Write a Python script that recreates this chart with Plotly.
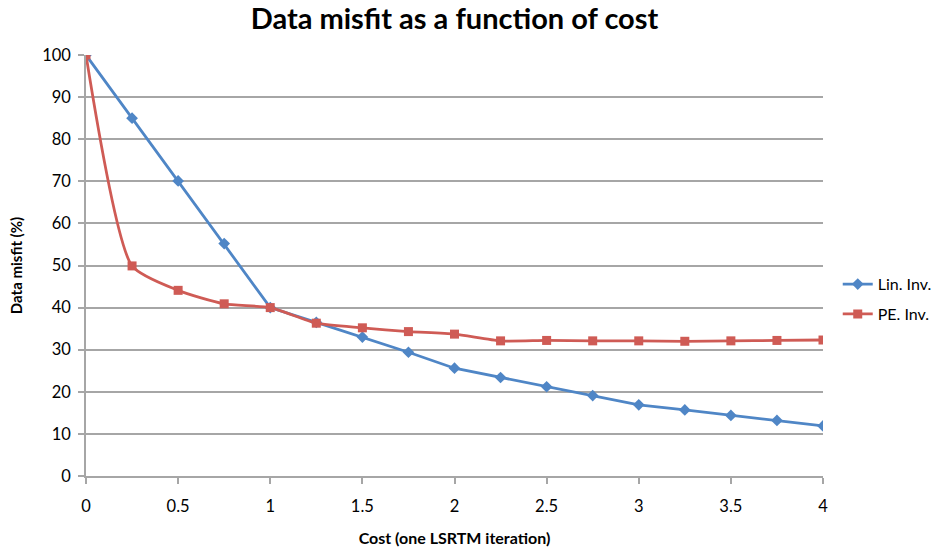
import plotly.graph_objects as go

# Cost in LSRTM iterations
cost = [0, 0.25, 0.5, 0.75, 1.0, 1.25, 1.5, 1.75, 2.0, 2.25, 2.5, 2.75, 3.0, 3.25, 3.5, 3.75, 4.0]

# Data misfit (%) for each inversion scheme
lin_inv = [100, 85.0, 70.1, 55.2, 40.0, 36.5, 33.0, 29.4, 25.6, 23.4, 21.2, 19.1, 16.9, 15.7, 14.4, 13.2, 11.9]
pe_inv = [100, 49.9, 44.1, 40.9, 40.0, 36.3, 35.2, 34.3, 33.7, 32.1, 32.2, 32.1, 32.1, 32.0, 32.1, 32.2, 32.3]

x_ticks = [0, 0.5, 1, 1.5, 2, 2.5, 3, 3.5, 4]
x_tick_text = ["0", "0.5", "1", "1.5", "2", "2.5", "3", "3.5", "4"]
y_ticks = list(range(0, 101, 10))

BLUE = "#4f86c6"
RED = "#cf5b55"
GRID = "#a6a6a6"
FONT = "Lato"

fig = go.Figure()
fig.add_trace(go.Scatter(
    x=cost, y=lin_inv, name="Lin. Inv.", mode="lines+markers", legendgroup="lin",
    line=dict(color=BLUE, width=2.8),
    marker=dict(symbol="diamond", size=9, color=BLUE),
))
fig.add_trace(go.Scatter(
    x=cost, y=pe_inv, name="PE. Inv.", mode="lines+markers", legendgroup="pe",
    line=dict(color=RED, width=2.8, shape="spline", smoothing=0.6),
    marker=dict(symbol="square", size=9, color=RED),
))

fig.update_layout(
    width=938, height=551,
    margin=dict(l=86, r=115, t=55, b=75, autoexpand=False),
    paper_bgcolor="white", plot_bgcolor="white",
    font=dict(family=FONT, size=16, color="#000000"),
    title=dict(
        text="<b>Data misfit as a function of cost</b>",
        x=0.5, xanchor="center", xref="paper", y=0.965, yanchor="middle",
        font=dict(family=FONT, size=29, color="#000000"),
    ),
    xaxis=dict(
        range=[0, 4], tickvals=x_ticks, ticktext=x_tick_text,
        showgrid=False, zeroline=False,
        showline=True, linecolor=GRID, linewidth=1.5,
        ticks="outside", ticklen=6, tickcolor=GRID, tickwidth=1.5,
        ticklabelstandoff=8,
        tickfont=dict(family=FONT, size=16.5),
        title=dict(text="<b>Cost (one LSRTM iteration)</b>", font=dict(family=FONT, size=16), standoff=18),
    ),
    yaxis=dict(
        range=[0, 100], tickvals=y_ticks,
        showgrid=True, gridcolor=GRID, gridwidth=1.5, zeroline=False,
        showline=True, linecolor=GRID, linewidth=1.5,
        ticks="outside", ticklen=6, tickcolor=GRID, tickwidth=1.5,
        ticklabelstandoff=4,
        tickfont=dict(family=FONT, size=16.5),
        title=dict(text="<b>Data misfit (%)</b>", font=dict(family=FONT, size=15), standoff=16),
    ),
    legend=dict(
        x=1.02, xanchor="left", y=0.42, yanchor="middle",
        font=dict(family=FONT, size=16), bgcolor="rgba(0,0,0,0)",
        traceorder="grouped", tracegroupgap=6,
    ),
    showlegend=True,
)

fig.write_html("out.html")
